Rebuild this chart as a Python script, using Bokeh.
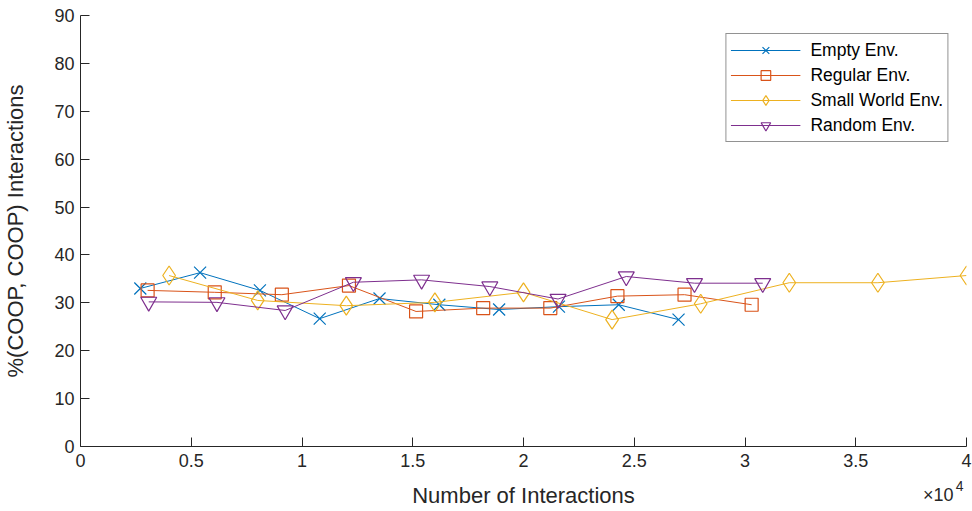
from bokeh.plotting import figure
from bokeh.embed import file_html
from bokeh.resources import INLINE
from bokeh.models import Title, CustomJSTickFormatter, FixedTicker, Legend, LegendItem

FONT = "Liberation Sans"

empty_x = [2700, 5400, 8100, 10800, 13500, 16200, 18900, 21600, 24300, 27000]
empty_y = [33.0, 36.3, 32.6, 26.7, 30.9, 29.6, 28.6, 29.2, 29.6, 26.5]

regular_x = [3030, 6060, 9090, 12120, 15150, 18180, 21210, 24240, 27270, 30300]
regular_y = [32.6, 32.2, 31.7, 33.6, 28.2, 28.9, 28.9, 31.4, 31.7, 29.6]

small_x = [4000, 8000, 12000, 16000, 20000, 24000, 28000, 32000, 36000, 40000]
small_y = [35.7, 30.5, 29.4, 30.1, 32.2, 26.5, 29.8, 34.2, 34.2, 35.7]

random_x = [3080, 6160, 9240, 12320, 15400, 18480, 21560, 24640, 27720, 30800]
random_y = [30.2, 30.1, 28.4, 34.3, 34.8, 33.4, 30.8, 35.5, 34.1, 34.1]

x_ticks = [0, 5000, 10000, 15000, 20000, 25000, 30000, 35000, 40000]
y_ticks = [0, 10, 20, 30, 40, 50, 60, 70, 80, 90]
x_mult_base = "×10"
x_mult_exp = "4"

C_BLUE = "#0072BD"
C_ORANGE = "#D95319"
C_YELLOW = "#EDB120"
C_PURPLE = "#7E2F8E"
AX = "#262626"

p = figure(width=972, height=511, output_backend="svg", toolbar_location=None,
           x_range=(0, 40000), y_range=(0, 90),
           min_border_left=79, min_border_right=6, min_border_top=15, min_border_bottom=65)
p.outline_line_color = None
p.xgrid.visible = False
p.ygrid.visible = False
p.background_fill_color = "white"

series = [
    ("Empty Env.", empty_x, empty_y, C_BLUE, "x", 17),
    ("Regular Env.", regular_x, regular_y, C_ORANGE, "square", 13),
    ("Small World Env.", small_x, small_y, C_YELLOW, "diamond", 19),
    ("Random Env.", random_x, random_y, C_PURPLE, "inverted_triangle", 16),
]
items = []
for name, xs, ys, c, m, s in series:
    l = p.line(xs, ys, line_color=c, line_width=1)
    sc = p.scatter(xs, ys, marker=m, size=s, line_color=c, fill_color=None, line_width=1.2)
    items.append(LegendItem(label=name, renderers=[l, sc]))

leg = Legend(items=items, location="top_right")
leg.margin = 18
leg.padding = 4
leg.spacing = 1
leg.glyph_width = 70
leg.glyph_height = 24
leg.label_height = 24
leg.label_standoff = 10
leg.label_text_font = FONT
leg.label_text_font_size = "17.5px"
leg.label_text_color = "black"
leg.border_line_color = AX
leg.border_line_width = 1
leg.background_fill_alpha = 1
p.add_layout(leg)

for ax in (p.xaxis[0], p.yaxis[0]):
    ax.axis_line_color = AX
    ax.major_tick_line_color = AX
    ax.minor_tick_line_color = None
    ax.major_tick_in = 9
    ax.major_tick_out = 0
    ax.major_label_text_font = FONT
    ax.major_label_text_font_size = "18px"
    ax.major_label_text_color = AX
    ax.axis_label_text_font = FONT
    ax.axis_label_text_font_size = "22px"
    ax.axis_label_text_font_style = "normal"
    ax.axis_label_text_color = AX

p.xaxis.ticker = FixedTicker(ticks=x_ticks)
p.yaxis.ticker = FixedTicker(ticks=y_ticks)
p.xaxis.formatter = CustomJSTickFormatter(code="return String(tick/10000);")
p.xaxis.axis_label = "Number of Interactions"
p.yaxis.axis_label = "%(COOP, COOP) Interactions"
p.xaxis.major_label_standoff = 7
p.yaxis.major_label_standoff = 6
p.xaxis.axis_label_standoff = 13
p.yaxis.axis_label_standoff = 23

mult = Title(text=x_mult_base, align="right", vertical_align="top", offset=13,
             standoff=-51, text_font=FONT, text_font_size="18px",
             text_font_style="normal", text_color=AX)
p.add_layout(mult, "below")
expo = Title(text=x_mult_exp, align="right", vertical_align="top", offset=3,
             standoff=-59, text_font=FONT, text_font_size="14px",
             text_font_style="normal", text_color=AX)
p.add_layout(expo, "below")

open("out.html", "w").write(file_html(p, INLINE))
